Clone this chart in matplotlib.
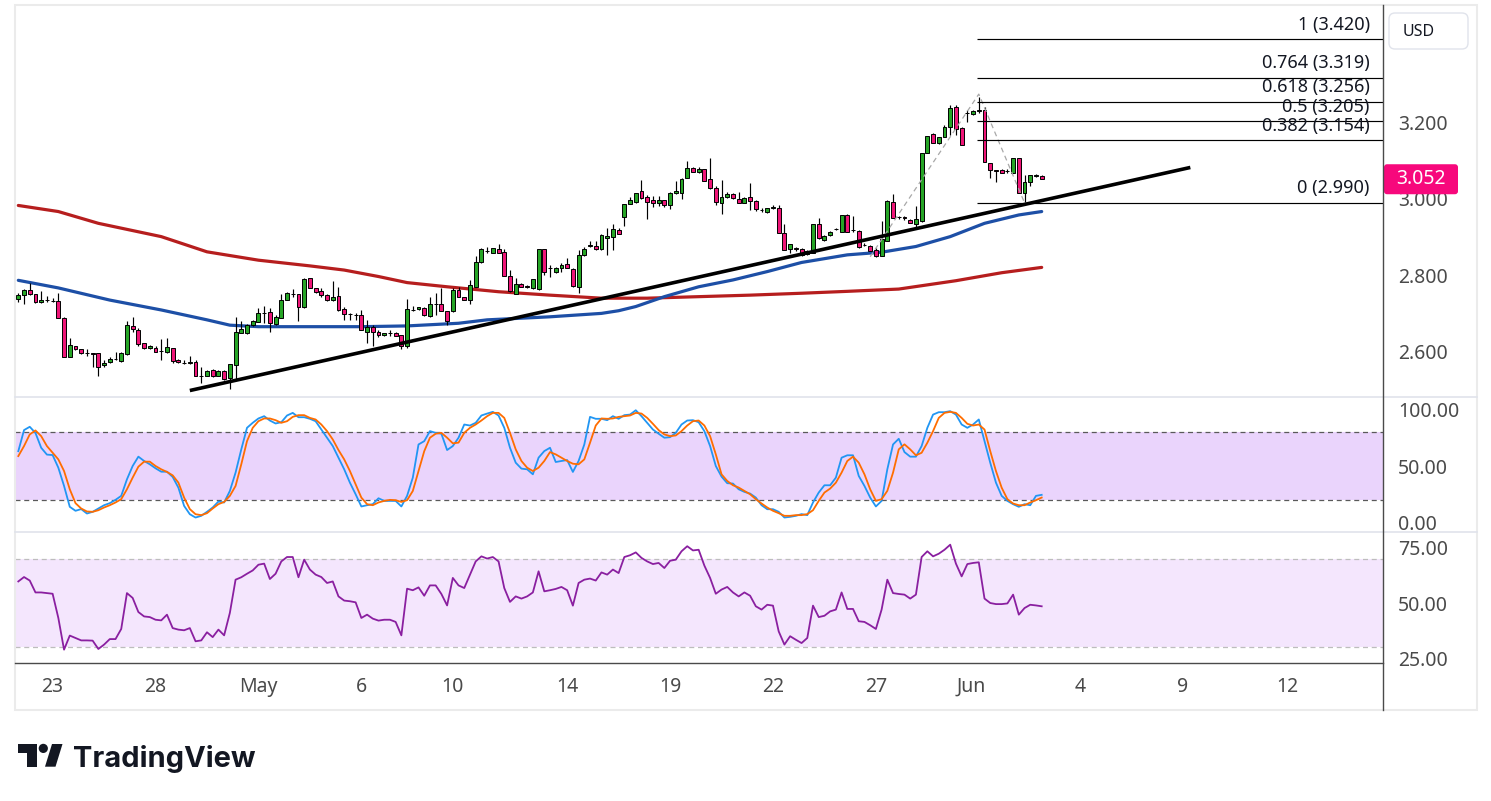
import matplotlib
matplotlib.use("Agg")
import matplotlib.pyplot as plt
from matplotlib.patches import Rectangle, FancyBboxPatch, Circle, Polygon
from matplotlib.ticker import FuncFormatter
import numpy as np

plt.rcParams['font.family'] = ['Noto Sans', 'DejaVu Sans']

# ---------------- data (4h candles, USD) ----------------
OPEN = [2.736, 2.747, 2.761, 2.749, 2.729, 2.734, 2.732, 2.731, 2.687, 2.583,
        2.612, 2.604, 2.595, 2.594, 2.594, 2.562, 2.570, 2.578, 2.575, 2.591,
        2.667, 2.654, 2.620, 2.607, 2.607, 2.601, 2.598, 2.607, 2.576, 2.569,
        2.568, 2.572, 2.534, 2.535, 2.550, 2.535, 2.547, 2.528, 2.563, 2.648,
        2.648, 2.668, 2.677, 2.700, 2.702, 2.671, 2.686, 2.733, 2.751, 2.750,
        2.715, 2.791, 2.765, 2.758, 2.747, 2.734, 2.744, 2.711, 2.698, 2.696,
        2.695, 2.651, 2.664, 2.651, 2.642, 2.648, 2.647, 2.642, 2.612, 2.708,
        2.710, 2.714, 2.693, 2.724, 2.723, 2.705, 2.704, 2.761, 2.741, 2.734,
        2.769, 2.835, 2.862, 2.859, 2.869, 2.860, 2.797, 2.750, 2.776, 2.770,
        2.767, 2.762, 2.868, 2.818, 2.807, 2.819, 2.829, 2.815, 2.769, 2.852,
        2.877, 2.876, 2.868, 2.897, 2.899, 2.918, 2.952, 2.986, 2.992, 3.021,
        3.004, 2.997, 2.989, 2.997, 2.983, 3.015, 3.017, 3.056, 3.081, 3.072,
        3.078, 3.053, 3.030, 2.990, 3.004, 3.013, 2.999, 2.990, 3.004, 2.995,
        2.972, 2.965, 2.977, 2.975, 2.910, 2.868, 2.870, 2.868, 2.855, 2.859,
        2.934, 2.892, 2.904, 2.920, 2.914, 2.958, 2.919, 2.917, 2.879, 2.877,
        2.866, 2.851, 2.890, 2.991, 2.953, 2.952, 2.945, 2.934, 2.941, 3.122,
        3.171, 3.148, 3.162, 3.189, 3.241, 3.186, 3.227, 3.223, 3.232, 3.233,
        3.094, 3.075, 3.076, 3.074, 3.069, 3.107, 3.015, 3.046, 3.061, 3.061]
HIGH = [2.752, 2.764, 2.778, 2.749, 2.758, 2.745, 2.739, 2.752, 2.690, 2.633,
        2.614, 2.606, 2.605, 2.596, 2.596, 2.576, 2.585, 2.597, 2.597, 2.679,
        2.690, 2.661, 2.622, 2.616, 2.614, 2.631, 2.634, 2.609, 2.578, 2.576,
        2.587, 2.576, 2.559, 2.549, 2.552, 2.549, 2.549, 2.566, 2.690, 2.679,
        2.670, 2.682, 2.714, 2.718, 2.714, 2.696, 2.749, 2.754, 2.763, 2.751,
        2.791, 2.792, 2.767, 2.767, 2.749, 2.784, 2.769, 2.717, 2.699, 2.699,
        2.708, 2.682, 2.668, 2.655, 2.645, 2.654, 2.649, 2.643, 2.737, 2.719,
        2.717, 2.716, 2.743, 2.752, 2.765, 2.706, 2.765, 2.768, 2.743, 2.787,
        2.850, 2.870, 2.873, 2.872, 2.881, 2.868, 2.813, 2.793, 2.778, 2.774,
        2.789, 2.869, 2.869, 2.826, 2.820, 2.831, 2.844, 2.818, 2.866, 2.873,
        2.890, 2.890, 2.907, 2.923, 2.933, 2.923, 2.987, 3.004, 3.017, 3.050,
        3.011, 3.008, 3.008, 2.998, 3.018, 3.047, 3.054, 3.100, 3.083, 3.083,
        3.080, 3.107, 3.034, 3.050, 3.018, 3.015, 3.018, 3.006, 3.041, 2.997,
        2.975, 2.977, 2.983, 2.984, 2.934, 2.882, 2.875, 2.870, 2.866, 2.934,
        2.951, 2.905, 2.917, 2.923, 2.958, 2.960, 2.954, 2.919, 2.885, 2.879,
        2.870, 2.941, 2.997, 3.012, 2.955, 2.954, 2.947, 2.982, 3.122, 3.166,
        3.173, 3.163, 3.195, 3.247, 3.247, 3.189, 3.234, 3.234, 3.268, 3.241,
        3.095, 3.076, 3.079, 3.078, 3.107, 3.109, 3.063, 3.063, 3.065, 3.062]
LOW = [2.730, 2.723, 2.747, 2.727, 2.727, 2.729, 2.728, 2.686, 2.585, 2.583,
       2.603, 2.592, 2.588, 2.557, 2.533, 2.557, 2.568, 2.576, 2.572, 2.589,
       2.651, 2.614, 2.605, 2.605, 2.597, 2.576, 2.596, 2.569, 2.568, 2.566,
       2.566, 2.533, 2.517, 2.533, 2.531, 2.533, 2.524, 2.499, 2.524, 2.647,
       2.646, 2.667, 2.677, 2.673, 2.651, 2.668, 2.686, 2.733, 2.741, 2.680,
       2.714, 2.767, 2.752, 2.743, 2.731, 2.732, 2.706, 2.682, 2.682, 2.682,
       2.654, 2.620, 2.614, 2.638, 2.640, 2.640, 2.639, 2.604, 2.609, 2.704,
       2.708, 2.693, 2.690, 2.695, 2.706, 2.668, 2.703, 2.741, 2.733, 2.724,
       2.769, 2.831, 2.859, 2.858, 2.857, 2.798, 2.756, 2.750, 2.768, 2.765,
       2.762, 2.761, 2.800, 2.796, 2.805, 2.809, 2.818, 2.769, 2.752, 2.850,
       2.873, 2.866, 2.866, 2.853, 2.866, 2.908, 2.929, 2.986, 2.989, 2.999,
       2.947, 2.980, 2.982, 2.980, 2.974, 3.014, 3.000, 3.054, 3.071, 3.069,
       3.047, 3.027, 2.983, 2.960, 3.002, 3.000, 2.989, 2.989, 2.971, 2.968,
       2.967, 2.963, 2.974, 2.910, 2.866, 2.857, 2.863, 2.850, 2.853, 2.857,
       2.894, 2.890, 2.903, 2.918, 2.912, 2.912, 2.914, 2.872, 2.877, 2.862,
       2.848, 2.851, 2.890, 2.951, 2.947, 2.945, 2.936, 2.927, 2.939, 3.120,
       3.148, 3.146, 3.162, 3.169, 3.169, 3.142, 3.202, 3.221, 3.226, 3.097,
       3.055, 3.046, 3.068, 3.068, 3.069, 3.015, 2.993, 3.034, 3.057, 3.055]
CLOSE = [2.747, 2.761, 2.751, 2.730, 2.734, 2.733, 2.731, 2.688, 2.585, 2.616,
         2.605, 2.594, 2.594, 2.593, 2.559, 2.569, 2.579, 2.579, 2.594, 2.668,
         2.657, 2.619, 2.607, 2.612, 2.598, 2.600, 2.610, 2.574, 2.570, 2.568,
         2.570, 2.533, 2.533, 2.547, 2.533, 2.547, 2.526, 2.566, 2.649, 2.657,
         2.668, 2.678, 2.699, 2.701, 2.673, 2.690, 2.734, 2.752, 2.750, 2.715,
         2.790, 2.767, 2.754, 2.748, 2.733, 2.741, 2.708, 2.697, 2.697, 2.694,
         2.655, 2.662, 2.651, 2.642, 2.647, 2.647, 2.640, 2.613, 2.711, 2.709,
         2.715, 2.695, 2.723, 2.723, 2.706, 2.680, 2.761, 2.741, 2.734, 2.774,
         2.835, 2.869, 2.863, 2.870, 2.859, 2.798, 2.759, 2.776, 2.768, 2.769,
         2.789, 2.868, 2.809, 2.819, 2.819, 2.826, 2.818, 2.771, 2.853, 2.868,
         2.878, 2.868, 2.905, 2.903, 2.920, 2.908, 2.987, 2.997, 3.015, 3.002,
         2.993, 2.989, 2.997, 2.983, 3.017, 3.021, 3.053, 3.081, 3.072, 3.078,
         3.048, 3.028, 2.991, 3.004, 3.013, 3.002, 2.990, 3.002, 2.996, 2.973,
         2.971, 2.975, 2.978, 2.910, 2.866, 2.882, 2.869, 2.853, 2.863, 2.934,
         2.897, 2.903, 2.914, 2.921, 2.958, 2.914, 2.918, 2.873, 2.878, 2.862,
         2.850, 2.894, 2.995, 2.951, 2.952, 2.951, 2.936, 2.947, 3.120, 3.166,
         3.148, 3.162, 3.189, 3.239, 3.184, 3.142, 3.226, 3.232, 3.233, 3.097,
         3.075, 3.074, 3.068, 3.073, 3.107, 3.015, 3.046, 3.062, 3.062, 3.052]

# moving averages (sampled at bar indices)
MA_BLUE_X = [0, 7, 16, 25, 33, 37, 42, 51, 60, 68, 77, 82, 93, 102, 105, 108,
             113, 119, 125, 131, 137, 145, 151, 157, 163, 169, 175, 179]
MA_BLUE_Y = [2.786, 2.766, 2.734, 2.708, 2.682, 2.668, 2.664, 2.664, 2.664, 2.666,
             2.673, 2.682, 2.690, 2.699, 2.706, 2.717, 2.743, 2.769, 2.787, 2.809,
             2.833, 2.853, 2.860, 2.875, 2.901, 2.936, 2.958, 2.967]
MA_RED_X = [0, 7, 14, 25, 33, 42, 51, 57, 63, 68, 75, 84, 93, 102, 110, 119,
            128, 137, 145, 154, 164, 172, 179]
MA_RED_Y = [2.983, 2.967, 2.936, 2.901, 2.861, 2.839, 2.824, 2.813, 2.796, 2.780,
            2.769, 2.756, 2.747, 2.739, 2.739, 2.743, 2.747, 2.752, 2.757, 2.763,
            2.785, 2.806, 2.820]

# trend line
TREND_X = [30, 205]
TREND_Y = [2.496, 3.083]

# trend-based fib extension
FIB_ANCHOR_X = [149, 168, 176]
FIB_ANCHOR_Y = [2.848, 3.276, 2.990]
FIB_LABELS = ['1', '0.764', '0.618', '0.5', '0.382', '0']
FIB_PRICES = [3.420, 3.319, 3.256, 3.205, 3.154, 2.990]

# stochastic %K / %D
STOCH_K = [63, 81.5, 84.4, 79, 66, 60, 59.6, 48.5, 32.5, 14.2,
           10.7, 12.2, 8.3, 9.8, 12.7, 15.6, 17.4, 20.3, 23.8, 38.3,
           50, 58.2, 54.4, 51.5, 48, 45, 45, 40.4, 31, 15,
           7.7, 4.8, 6.3, 9.8, 13.6, 18.8, 18, 28.1, 44.2, 64.6,
           83.5, 87.9, 91.7, 93.7, 89.9, 87.3, 88.4, 94.3, 96.6, 92.8,
           92.8, 91.4, 89.3, 82, 74.8, 67.5, 57.3, 47.1, 35.4, 25.2,
           14.5, 15.6, 16.5, 21.7, 19.4, 19.4, 19.4, 14.5, 23.8, 39.8,
           68.9, 71.8, 80.6, 79.1, 78.3, 64, 67.5, 74.8, 86.4, 85.5,
           87.9, 94.3, 96, 97.5, 94.3, 83.5, 66, 52.9, 47.7, 47.1,
           42.7, 57.3, 63.1, 66, 53.5, 54.4, 55.2, 44.8, 54.4, 68.9,
           93.1, 91.4, 91.4, 90.2, 93.7, 91.4, 94.6, 95.1, 98.9, 93.7,
           87.9, 82, 78.3, 74.8, 75.3, 79.1, 86.4, 89.9, 90.2, 88.4,
           80.6, 67.5, 50, 40.7, 34.9, 34.6, 29.6, 27.3, 25.8, 22.3,
           15.6, 12.1, 12.1, 9.8, 4.8, 5.4, 6.3, 7.8, 6.9, 18,
           26.7, 33.1, 33.1, 39.8, 57.3, 59.4, 59.4, 41.3, 32.5, 22.3,
           14.5, 19.4, 47.1, 68.9, 73.9, 62.2, 58.2, 58.2, 67.5, 83.5,
           95.1, 97.2, 97.2, 98.1, 95.1, 86.4, 83.5, 86.4, 90.8, 71.8,
           52.9, 35.4, 23.8, 19.4, 16.5, 14.2, 16.5, 15.6, 23.8, 24.7]
STOCH_D = [58.7, 67.5, 77.7, 81.2, 76.2, 67.5, 61.6, 55.8, 45.6, 29.6,
           17.4, 12.7, 10.1, 9.8, 11.2, 13.6, 15.6, 18, 20.9, 29.6,
           39.8, 49.4, 53.8, 53.8, 50, 47.1, 44.8, 41.8, 35.4, 22.3,
           12.2, 7.7, 6.9, 8.6, 12.7, 16.5, 18.5, 23.8, 32.5, 51.5,
           71.8, 83.5, 89.3, 91.7, 91.7, 90.2, 87.9, 89.3, 93.1, 94.6,
           94.6, 92.2, 90.8, 86.4, 80.6, 73.3, 64, 55.8, 45.6, 34,
           22.3, 16.5, 15.6, 18, 19.4, 20.3, 20, 18.5, 20, 28.1,
           45.6, 63, 74.8, 78.3, 79.1, 74.8, 69.9, 70.5, 79.1, 83.5,
           86.4, 89.9, 93.7, 96.6, 96.6, 92.2, 79.1, 64.6, 54.4, 48.5,
           45.6, 48.5, 54.4, 62.2, 60.2, 57.3, 54.4, 52, 51.5, 55.8,
           70.4, 85.5, 91.7, 91.4, 91.7, 93.1, 93.7, 94.3, 96.6, 96,
           92.2, 87, 81.5, 77.7, 76.2, 76.8, 80.6, 85.5, 89.3, 89.9,
           85.5, 76.2, 60.2, 42.7, 36.9, 33.1, 31.1, 28.2, 25.2, 20.9,
           17.1, 13.6, 10.7, 8.6, 6.3, 6.3, 6.9, 6.9, 7.8, 11.2,
           19.4, 26.7, 30.2, 35.4, 44.2, 54.4, 58.2, 52.9, 42.7, 29.6,
           19.4, 20.9, 28.2, 44.2, 64.6, 69, 64.6, 59.4, 61.6, 70.4,
           80.6, 92.2, 96.6, 97.5, 96.6, 92.2, 87, 85.5, 86.4, 82,
           63.1, 45.6, 31, 20.9, 17.1, 15.6, 15.6, 18, 20, 22.3]

# RSI
RSI = [59.8, 61.8, 60.2, 54.8, 54.8, 54.5, 54.2, 43.2, 28.8, 35.2,
       34.1, 33, 33, 32.9, 29.1, 31.1, 33.6, 33.6, 38.2, 54.5,
       52.3, 45.9, 43.9, 43.6, 42.4, 42.1, 44.7, 38.6, 37.9, 37.6,
       38.6, 32.6, 33, 36.7, 34.5, 37.9, 35.3, 45.5, 60.6, 61.7,
       63.3, 64.8, 67.4, 67.9, 60.9, 63.3, 68.9, 70.9, 70.9, 61.7,
       69.7, 65.2, 62.9, 61.8, 59.1, 59.8, 53, 51.1, 50.8, 50.3,
       43.2, 44.7, 42.9, 42, 42.4, 42.4, 41.4, 35.3, 56.5, 55.8,
       57.1, 53.3, 58, 58, 54.1, 48.9, 61.4, 58, 56.8, 62.9,
       68.9, 71.2, 70.2, 70.9, 68.9, 56.8, 50.5, 53, 52, 53,
       54.8, 64.4, 55.3, 55.8, 56.4, 57.3, 55.8, 48.8, 59.1, 60.6,
       61.1, 60.2, 63.9, 62.9, 65.2, 63.6, 70.9, 71.7, 73, 70.5,
       68.9, 67.7, 68.2, 65.9, 69.2, 69.7, 73.5, 75.8, 73.9, 74.2,
       67, 61.4, 54.2, 56.1, 57.3, 54.8, 53, 54.8, 53.3, 48.5,
       47, 49.2, 48.8, 37.1, 31.1, 34.9, 33.3, 31.8, 34.1, 48.8,
       43.6, 44.2, 46.2, 47, 54.8, 47.3, 47.3, 41.7, 41.4, 39.9,
       38.2, 47, 60.6, 54.5, 54.1, 53.8, 52, 53.8, 70.9, 73.5,
       71.2, 72.4, 74.2, 76.5, 67.9, 62.1, 67.7, 68.2, 68.5, 52,
       50, 49.5, 49.5, 49.8, 53.8, 44.7, 47.7, 49.2, 48.9, 48.5]

DATE_LABELS = ['23', '28', 'May', '6', '10', '14', '19', '22', '27', 'Jun', '4', '9', '12']
DATE_BARS = [6, 24, 42, 60, 76, 96, 114, 132, 150, 166.6, 185.7, 203.7, 221.9]
MONTH_LABELS = ['May', 'Jun']

PRICE_TICKS = [2.6, 2.8, 3.0, 3.2]
STOCH_TICKS = [0, 50, 100]
RSI_TICKS = [25, 50, 75]

# ---------------- styling ----------------
GREEN = '#26a526'
PINK = '#ee1577'
TAG_PINK = '#f7087c'
BLUE_MA = '#1d4fa6'
RED_MA = '#b61e1e'
K_COLOR = '#2196f3'
D_COLOR = '#ff6d00'
RSI_COLOR = '#8a1fa0'
AXIS_TXT = '#4a4a4a'
TXT = '#131722'

W, H = 1491, 801
fig = plt.figure(figsize=(W / 100, H / 100), dpi=100)
fig.patch.set_facecolor('white')


def rect(top, bottom, left=15, right=1383):
    return [left / W, (H - bottom) / H, (right - left) / W, (bottom - top) / H]


ax = fig.add_axes(rect(5, 396))
ax_s = fig.add_axes(rect(397, 531))
ax_r = fig.add_axes(rect(532, 663))

XMIN, XMAX = -0.58, 238.7
for a in (ax, ax_s, ax_r):
    a.set_xlim(XMIN, XMAX)
    for sp in a.spines.values():
        sp.set_visible(False)
    a.set_facecolor('none')
    a.yaxis.tick_right()
    a.tick_params(axis='y', length=0, pad=10.8, labelsize=14, labelcolor=AXIS_TXT)
    a.tick_params(axis='x', length=0)

ax.set_ylim(2.4816, 3.5105)
ax_s.set_ylim(-7.02, 110.53)
ax_r.set_ylim(22.73, 82.27)

# ---- main price pane ----
n = len(CLOSE)
xs = np.arange(n)
o = np.array(OPEN); h = np.array(HIGH); l = np.array(LOW); c = np.array(CLOSE)
cols = np.where(c >= o, GREEN, PINK)

ax.plot(MA_RED_X, MA_RED_Y, color=RED_MA, lw=2.3, zorder=2, solid_capstyle='round')
ax.plot(MA_BLUE_X, MA_BLUE_Y, color=BLUE_MA, lw=2.3, zorder=2, solid_capstyle='round')

ax.vlines(xs, l, h, color='black', lw=0.85, zorder=3)
body_bottom = np.minimum(o, c)
body_h = np.maximum(np.abs(c - o), 0.0012)
ax.bar(xs, body_h, bottom=body_bottom, width=0.68, color=cols,
       edgecolor='black', linewidth=0.7, zorder=4)

ax.plot(TREND_X, TREND_Y, color='black', lw=2.6, zorder=6, solid_capstyle='butt')

ax.plot(FIB_ANCHOR_X, FIB_ANCHOR_Y, color='#a8a8a8', lw=0.9, ls=(0, (4, 3)), zorder=5)
fib_start = FIB_ANCHOR_X[1] - 0.3
for lab, p in zip(FIB_LABELS, FIB_PRICES):
    ax.hlines(p, fib_start, XMAX, color='black', lw=0.85, zorder=5)
    ax.annotate(f'{lab} ({p:.3f})', xy=(236.4, p), xytext=(0, 4),
                textcoords='offset points', ha='right', va='bottom',
                fontsize=13, color=TXT, zorder=7)

ax.set_yticks(PRICE_TICKS)
ax.yaxis.set_major_formatter(FuncFormatter(lambda v, _: f'{v:.3f}'))
ax.set_xticks([])

# ---- stochastic pane ----
ax_s.axhspan(20, 80, color='#ead4fc', lw=0, zorder=0)
for lv in (80, 20):
    ax_s.axhline(lv, color='#5a5a5a', lw=0.9, ls=(0, (4, 3)), zorder=1)
ax_s.plot(xs, STOCH_K, color=K_COLOR, lw=1.3, zorder=3)
ax_s.plot(xs, STOCH_D, color=D_COLOR, lw=1.3, zorder=4)
ax_s.set_yticks(STOCH_TICKS)
ax_s.yaxis.set_major_formatter(FuncFormatter(lambda v, _: f'{v:.2f}'))
ax_s.set_xticks([])

# ---- RSI pane ----
ax_r.axhspan(30, 70, color='#f4e6fd', lw=0, zorder=0)
for lv in (70, 30):
    ax_r.axhline(lv, color='#bdbdbd', lw=0.9, ls=(0, (4, 3)), zorder=1)
ax_r.plot(xs, RSI, color=RSI_COLOR, lw=1.3, zorder=3)
ax_r.set_yticks(RSI_TICKS)
ax_r.yaxis.set_major_formatter(FuncFormatter(lambda v, _: f'{v:.2f}'))
ax_r.set_xticks(DATE_BARS)
ax_r.set_xticklabels(DATE_LABELS)
ax_r.tick_params(axis='x', length=0, pad=10, labelsize=14, labelcolor=AXIS_TXT)
for t in ax_r.get_xticklabels():
    if t.get_text() in MONTH_LABELS:
        t.set_fontweight('bold')

# ---- overlay (frame, separators, tags, logo) in pixel coordinates ----
ov = fig.add_axes([0, 0, 1, 1], zorder=10)
ov.set_xlim(0, W)
ov.set_ylim(H, 0)
ov.axis('off')
ov.patch.set_visible(False)

ov.add_patch(Rectangle((15, 5), 1462, 705, fill=False, ec='#ebebeb', lw=1.5))
ov.plot([15, 1477], [396.5, 396.5], color='#e0e3eb', lw=1.2)
ov.plot([15, 1477], [531.5, 531.5], color='#e0e3eb', lw=1.2)
ov.plot([15, 1383], [663, 663], color='#4a4a4a', lw=1.0)
ov.plot([1383, 1383], [5, 710], color='#4a4a4a', lw=1.0)

# last price tag
last = CLOSE[-1]
ydisp = ax.transData.transform((0, last))[1]
ypix = H - ydisp
ov.add_patch(FancyBboxPatch((1384, ypix - 15), 74, 30,
                            boxstyle='round,pad=0,rounding_size=3',
                            fc=TAG_PINK, ec='none'))
ov.text(1421, ypix, f'{last:.3f}', color='white', fontsize=14,
        ha='center', va='center')

# currency box
ov.add_patch(FancyBboxPatch((1389, 13), 79, 36,
                            boxstyle='round,pad=0,rounding_size=6',
                            fc='white', ec='#e0e3eb', lw=1.0))
ov.text(1403, 31.5, 'USD', color=TXT, fontsize=11.5, ha='left', va='center')

# TradingView logo
ov.add_patch(Polygon([(17.7, 744), (36.7, 744), (36.7, 766.7), (26.7, 766.7),
                      (26.7, 752.7), (17.7, 752.7)], closed=True, fc=TXT, ec='none'))
ov.add_patch(Circle((43.3, 748.4), 4.6, fc=TXT, ec='none'))
ov.add_patch(Polygon([(52, 744), (62.5, 744), (55.5, 766.7), (45, 766.7)],
                     closed=True, fc=TXT, ec='none'))
tv = ov.text(73.5, 767, 'TradingView', fontsize=22, fontweight='bold',
             family=['Inter', 'DejaVu Sans'], color=TXT, ha='left', va='baseline')
renderer = fig.canvas.get_renderer()
wpx = tv.get_window_extent(renderer).width
tv.set_fontsize(22 * 182.0 / wpx)

fig.savefig('out.png', dpi=100, facecolor='white')
